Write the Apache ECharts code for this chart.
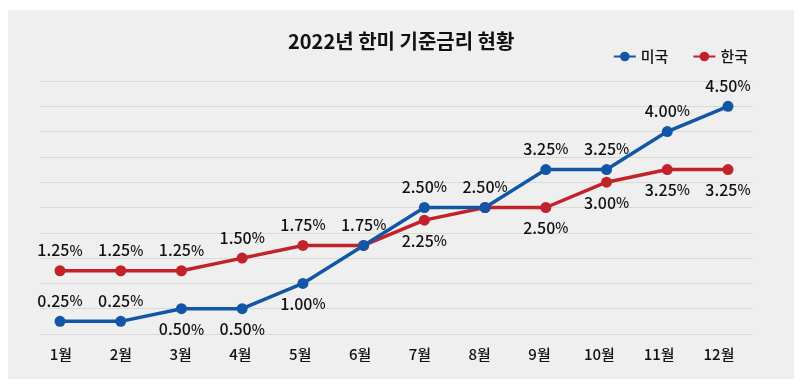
<!DOCTYPE html>
<html><head><meta charset="utf-8">
<script src="https://cdn.jsdelivr.net/npm/echarts@6/dist/echarts.min.js"></script>
<style>html,body{margin:0;padding:0;background:#fff}#c{width:807px;height:387px}</style>
</head><body><div id="c"></div>
<script>
const months = ['1월','2월','3월','4월','5월','6월','7월','8월','9월','10월','11월','12월'];
const usRates = [0.25,0.25,0.50,0.50,1.00,1.75,2.50,2.50,3.25,3.25,4.00,4.50];
const krRates = [1.25,1.25,1.25,1.50,1.75,1.75,2.25,2.50,2.50,3.00,3.25,3.25];
const yTicks = [0,0.5,1,1.5,2,2.5,3,3.5,4,4.5,5];

const usLabelSide = ['top','top','bottom','bottom','bottom','top','top','top','top','top','top','top'];
const krLabelSide = ['top','top','top','top','top','hide','bottom','hide','bottom','bottom','bottom','bottom'];

const BLUE = '#1456a6', RED = '#c2232b';
const FONT = '"Noto Sans CJK KR","Noto Sans",sans-serif';

function build(vals, sides) {
  return vals.map((v, i) => ({
    value: v,
    label: sides[i] === 'hide' ? {show: false} : {show: true, position: sides[i]}
  }));
}
const labelStyle = {
  distance: 7,
  formatter: p => '{n|' + p.value.toFixed(2) + '}{p|%}',
  rich: {
    n: {fontFamily: FONT, fontSize: 16, fontWeight: 500, color: '#111111'},
    p: {fontFamily: FONT, fontSize: 14, fontWeight: 500, color: '#111111'}
  }
};

const chart = echarts.init(document.getElementById('c'), null, {renderer: 'canvas'});
chart.setOption({
  animation: false,
  backgroundColor: '#ffffff',
  graphic: [{type: 'rect', z: -10, shape: {x: 8, y: 10, width: 786, height: 369}, style: {fill: '#efefef'}}],
  title: {
    text: '2022년 한미 기준금리 현황',
    left: 283, top: 26,
    textStyle: {fontFamily: FONT, fontSize: 20, fontWeight: 'bold', color: '#111111'}
  },
  legend: {
    data: ['미국','한국'],
    right: 54, top: 44,
    itemWidth: 22, itemHeight: 12, itemGap: 24,
    textStyle: {fontFamily: FONT, fontSize: 15, fontWeight: 500, color: '#111111'}
  },
  grid: [
    {left: 40, right: 54, top: 81, bottom: 53},
    {left: 60, right: 79, top: 81, bottom: 53},
    {left: 61, right: 88, top: 81, bottom: 53}
  ],
  xAxis: [
    {gridIndex: 0, type: 'category', data: months, show: false},
    {gridIndex: 1, type: 'category', data: months, boundaryGap: false, show: false},
    {gridIndex: 2, type: 'category', data: months, boundaryGap: false,
     axisLine: {show: false}, axisTick: {show: false},
     axisLabel: {margin: 13, fontFamily: FONT, fontSize: 15, fontWeight: 500, color: '#111111', interval: 0}}
  ],
  yAxis: [
    {gridIndex: 0, type: 'value', min: yTicks[0], max: yTicks[yTicks.length-1], interval: yTicks[1]-yTicks[0],
     axisLabel: {show: false}, axisLine: {show: false}, axisTick: {show: false},
     splitLine: {show: true, lineStyle: {color: '#d9d9d9', width: 1}}},
    {gridIndex: 1, type: 'value', min: yTicks[0], max: yTicks[yTicks.length-1], show: false, splitLine: {show: false}},
    {gridIndex: 2, type: 'value', min: yTicks[0], max: yTicks[yTicks.length-1], show: false, splitLine: {show: false}}
  ],
  series: [
    {name: '미국', type: 'line', xAxisIndex: 1, yAxisIndex: 1, z: 3,
     data: build(usRates, usLabelSide), symbol: 'circle', symbolSize: 11,
     lineStyle: {color: BLUE, width: 3.5}, itemStyle: {color: BLUE}, label: labelStyle},
    {name: '한국', type: 'line', xAxisIndex: 1, yAxisIndex: 1, z: 2,
     data: build(krRates, krLabelSide), symbol: 'circle', symbolSize: 11,
     lineStyle: {color: RED, width: 3.5}, itemStyle: {color: RED}, label: labelStyle}
  ]
});
</script></body></html>
